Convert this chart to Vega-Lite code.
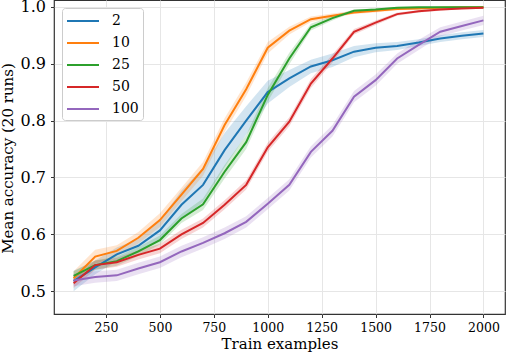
{
  "$schema": "https://vega.github.io/schema/vega-lite/v6.json",
  "autosize": "none",
  "width": 451,
  "height": 314,
  "padding": {"left": 54, "top": 0, "right": 1, "bottom": 40},
  "background": "white",
  "config": {
    "view": {"stroke": "#333333", "strokeWidth": 1.2},
    "font": "DejaVu Serif",
    "axis": {"labelFont": "DejaVu Serif", "titleFont": "DejaVu Serif", "labelColor": "black", "titleColor": "black", "titleFontWeight": "normal", "gridColor": "#e6e6e6", "gridWidth": 1, "domain": false, "tickColor": "#333333", "tickSize": 3.5, "tickWidth": 1}
  },
  "data": {"values": [
    {"x":100,"s":"2","m":0.518,"lo":0.500,"hi":0.536},
    {"x":200,"s":"2","m":0.542,"lo":0.530,"hi":0.554},
    {"x":300,"s":"2","m":0.565,"lo":0.553,"hi":0.577},
    {"x":400,"s":"2","m":0.580,"lo":0.568,"hi":0.592},
    {"x":500,"s":"2","m":0.607,"lo":0.589,"hi":0.625},
    {"x":600,"s":"2","m":0.652,"lo":0.627,"hi":0.677},
    {"x":700,"s":"2","m":0.687,"lo":0.657,"hi":0.717},
    {"x":800,"s":"2","m":0.748,"lo":0.718,"hi":0.778},
    {"x":900,"s":"2","m":0.800,"lo":0.775,"hi":0.825},
    {"x":1000,"s":"2","m":0.850,"lo":0.830,"hi":0.870},
    {"x":1100,"s":"2","m":0.874,"lo":0.859,"hi":0.889},
    {"x":1200,"s":"2","m":0.895,"lo":0.883,"hi":0.907},
    {"x":1300,"s":"2","m":0.906,"lo":0.894,"hi":0.918},
    {"x":1400,"s":"2","m":0.921,"lo":0.911,"hi":0.931},
    {"x":1500,"s":"2","m":0.928,"lo":0.920,"hi":0.936},
    {"x":1600,"s":"2","m":0.931,"lo":0.924,"hi":0.938},
    {"x":1700,"s":"2","m":0.937,"lo":0.931,"hi":0.943},
    {"x":1800,"s":"2","m":0.944,"lo":0.938,"hi":0.950},
    {"x":1900,"s":"2","m":0.949,"lo":0.943,"hi":0.955},
    {"x":2000,"s":"2","m":0.953,"lo":0.947,"hi":0.959},

    {"x":100,"s":"10","m":0.523,"lo":0.511,"hi":0.535},
    {"x":200,"s":"10","m":0.561,"lo":0.549,"hi":0.573},
    {"x":300,"s":"10","m":0.571,"lo":0.561,"hi":0.581},
    {"x":400,"s":"10","m":0.594,"lo":0.584,"hi":0.604},
    {"x":500,"s":"10","m":0.625,"lo":0.613,"hi":0.637},
    {"x":600,"s":"10","m":0.670,"lo":0.658,"hi":0.682},
    {"x":700,"s":"10","m":0.715,"lo":0.703,"hi":0.727},
    {"x":800,"s":"10","m":0.792,"lo":0.780,"hi":0.804},
    {"x":900,"s":"10","m":0.855,"lo":0.843,"hi":0.867},
    {"x":1000,"s":"10","m":0.928,"lo":0.918,"hi":0.938},
    {"x":1100,"s":"10","m":0.958,"lo":0.951,"hi":0.965},
    {"x":1200,"s":"10","m":0.978,"lo":0.973,"hi":0.983},
    {"x":1300,"s":"10","m":0.984,"lo":0.980,"hi":0.988},
    {"x":1400,"s":"10","m":0.990,"lo":0.987,"hi":0.993},
    {"x":1500,"s":"10","m":0.993,"lo":0.990,"hi":0.996},
    {"x":1600,"s":"10","m":0.996,"lo":0.994,"hi":0.998},
    {"x":1700,"s":"10","m":0.997,"lo":0.995,"hi":0.999},
    {"x":1800,"s":"10","m":0.998,"lo":0.997,"hi":0.999},
    {"x":1900,"s":"10","m":0.999,"lo":0.998,"hi":1.000},
    {"x":2000,"s":"10","m":0.999,"lo":0.998,"hi":1.000},

    {"x":100,"s":"25","m":0.527,"lo":0.519,"hi":0.535},
    {"x":200,"s":"25","m":0.546,"lo":0.538,"hi":0.554},
    {"x":300,"s":"25","m":0.553,"lo":0.545,"hi":0.561},
    {"x":400,"s":"25","m":0.570,"lo":0.562,"hi":0.578},
    {"x":500,"s":"25","m":0.590,"lo":0.582,"hi":0.598},
    {"x":600,"s":"25","m":0.628,"lo":0.620,"hi":0.636},
    {"x":700,"s":"25","m":0.653,"lo":0.643,"hi":0.663},
    {"x":800,"s":"25","m":0.710,"lo":0.698,"hi":0.722},
    {"x":900,"s":"25","m":0.762,"lo":0.750,"hi":0.774},
    {"x":1000,"s":"25","m":0.845,"lo":0.833,"hi":0.857},
    {"x":1100,"s":"25","m":0.909,"lo":0.899,"hi":0.919},
    {"x":1200,"s":"25","m":0.964,"lo":0.958,"hi":0.970},
    {"x":1300,"s":"25","m":0.980,"lo":0.976,"hi":0.984},
    {"x":1400,"s":"25","m":0.993,"lo":0.991,"hi":0.995},
    {"x":1500,"s":"25","m":0.995,"lo":0.993,"hi":0.997},
    {"x":1600,"s":"25","m":0.998,"lo":0.997,"hi":0.999},
    {"x":1700,"s":"25","m":0.999,"lo":0.998,"hi":1.000},
    {"x":1800,"s":"25","m":0.999,"lo":0.998,"hi":1.000},
    {"x":1900,"s":"25","m":0.999,"lo":0.998,"hi":1.000},
    {"x":2000,"s":"25","m":0.999,"lo":0.998,"hi":1.000},

    {"x":100,"s":"50","m":0.514,"lo":0.506,"hi":0.522},
    {"x":200,"s":"50","m":0.546,"lo":0.538,"hi":0.554},
    {"x":300,"s":"50","m":0.551,"lo":0.543,"hi":0.559},
    {"x":400,"s":"50","m":0.564,"lo":0.556,"hi":0.572},
    {"x":500,"s":"50","m":0.575,"lo":0.567,"hi":0.583},
    {"x":600,"s":"50","m":0.600,"lo":0.592,"hi":0.608},
    {"x":700,"s":"50","m":0.620,"lo":0.612,"hi":0.628},
    {"x":800,"s":"50","m":0.652,"lo":0.644,"hi":0.660},
    {"x":900,"s":"50","m":0.687,"lo":0.679,"hi":0.695},
    {"x":1000,"s":"50","m":0.753,"lo":0.745,"hi":0.761},
    {"x":1100,"s":"50","m":0.798,"lo":0.790,"hi":0.806},
    {"x":1200,"s":"50","m":0.865,"lo":0.857,"hi":0.873},
    {"x":1300,"s":"50","m":0.909,"lo":0.902,"hi":0.916},
    {"x":1400,"s":"50","m":0.956,"lo":0.951,"hi":0.961},
    {"x":1500,"s":"50","m":0.972,"lo":0.968,"hi":0.976},
    {"x":1600,"s":"50","m":0.987,"lo":0.984,"hi":0.990},
    {"x":1700,"s":"50","m":0.992,"lo":0.990,"hi":0.994},
    {"x":1800,"s":"50","m":0.995,"lo":0.993,"hi":0.997},
    {"x":1900,"s":"50","m":0.997,"lo":0.996,"hi":0.998},
    {"x":2000,"s":"50","m":0.998,"lo":0.997,"hi":0.999},

    {"x":100,"s":"100","m":0.519,"lo":0.509,"hi":0.529},
    {"x":200,"s":"100","m":0.525,"lo":0.515,"hi":0.535},
    {"x":300,"s":"100","m":0.528,"lo":0.518,"hi":0.538},
    {"x":400,"s":"100","m":0.540,"lo":0.530,"hi":0.550},
    {"x":500,"s":"100","m":0.551,"lo":0.541,"hi":0.561},
    {"x":600,"s":"100","m":0.570,"lo":0.560,"hi":0.580},
    {"x":700,"s":"100","m":0.585,"lo":0.575,"hi":0.595},
    {"x":800,"s":"100","m":0.602,"lo":0.592,"hi":0.612},
    {"x":900,"s":"100","m":0.622,"lo":0.612,"hi":0.632},
    {"x":1000,"s":"100","m":0.654,"lo":0.644,"hi":0.664},
    {"x":1100,"s":"100","m":0.687,"lo":0.677,"hi":0.697},
    {"x":1200,"s":"100","m":0.745,"lo":0.735,"hi":0.755},
    {"x":1300,"s":"100","m":0.782,"lo":0.772,"hi":0.792},
    {"x":1400,"s":"100","m":0.842,"lo":0.832,"hi":0.852},
    {"x":1500,"s":"100","m":0.871,"lo":0.861,"hi":0.881},
    {"x":1600,"s":"100","m":0.909,"lo":0.900,"hi":0.918},
    {"x":1700,"s":"100","m":0.933,"lo":0.924,"hi":0.942},
    {"x":1800,"s":"100","m":0.956,"lo":0.948,"hi":0.964},
    {"x":1900,"s":"100","m":0.966,"lo":0.958,"hi":0.974},
    {"x":2000,"s":"100","m":0.976,"lo":0.968,"hi":0.984}
  ]},
  "encoding": {
    "x": {"field": "x", "type": "quantitative",
      "scale": {"domain": [9, 2100], "nice": false, "zero": false},
      "axis": {"values": [250, 500, 750, 1000, 1250, 1500, 1750, 2000], "format": "d", "title": "Train examples", "labelFontSize": 12.5, "titleFontSize": 15, "labelPadding": 4, "titleX": 225.5, "titleY": 34, "titleBaseline": "alphabetic", "titleAnchor": null}}
  },
  "layer": [
    {
      "mark": {"type": "area", "fillOpacity": 0.2, "strokeWidth": 0},
      "encoding": {
        "y": {"field": "lo", "type": "quantitative", "scale": {"domain": [0.4601, 1.0118], "nice": false, "zero": false},
          "axis": {"values": [0.5, 0.6, 0.7, 0.8, 0.9, 1.0], "format": ".1f", "title": "Mean accuracy (20 runs)", "labelFontSize": 16, "titleFontSize": 15, "labelPadding": 5, "titleX": -41.5, "titleY": 158, "titleBaseline": "alphabetic", "titleAngle": 270}},
        "y2": {"field": "hi"},
        "fill": {"field": "s", "type": "nominal", "scale": {"domain": ["100", "50", "25", "10", "2"], "range": ["#9467bd", "#d62728", "#2ca02c", "#ff7f0e", "#1f77b4"]}, "legend": null},
        "detail": {"field": "s"}
      }
    },
    {
      "mark": {"type": "line", "strokeWidth": 2},
      "encoding": {
        "y": {"field": "m", "type": "quantitative"},
        "stroke": {"field": "s", "type": "nominal", "scale": {"domain": ["2", "10", "25", "50", "100"], "range": ["#1f77b4", "#ff7f0e", "#2ca02c", "#d62728", "#9467bd"]},
          "legend": {"title": null, "orient": "none", "legendX": 8, "legendY": 8, "fillColor": "white", "strokeColor": "#cccccc", "cornerRadius": 3, "padding": 4, "symbolType": "M-1,0H3", "symbolSize": 256, "symbolStrokeWidth": 2, "symbolOpacity": 1, "labelFont": "DejaVu Serif", "labelFontSize": 14, "labelColor": "black", "labelOffset": 28, "rowPadding": 6}}
      }
    }
  ]
}
